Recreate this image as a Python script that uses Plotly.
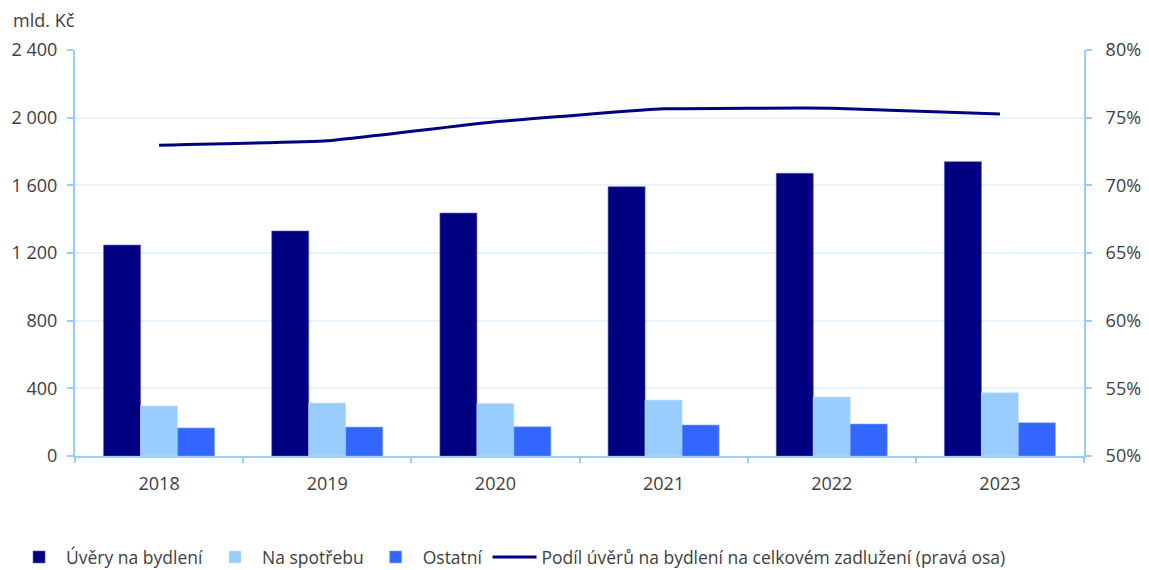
import plotly.graph_objects as go

years = ["2018", "2019", "2020", "2021", "2022", "2023"]
uvery_bydleni = [1247, 1330, 1436, 1592, 1671, 1740]
na_spotrebu = [296, 313, 311, 331, 349, 374]
ostatni = [166, 171, 173, 183, 189, 197]
podil = [72.97, 73.3, 74.7, 75.65, 75.7, 75.27]

left_ticks = [0, 400, 800, 1200, 1600, 2000, 2400]
right_ticks = [50, 55, 60, 65, 70, 75, 80]
right_labels = [f"{v}%" for v in right_ticks]

font_family = "Open Sans, Liberation Sans, sans-serif"
axis_col = "#99ccff"
grid_col = "#e8f3ff"
text_col = "#404040"

fig = go.Figure()
fig.add_trace(go.Bar(x=years, y=uvery_bydleni, name="Úvěry na bydlení",
                     marker=dict(color="#000080", line=dict(color="#5a5ac0", width=0.6))))
fig.add_trace(go.Bar(x=years, y=na_spotrebu, name="Na spotřebu",
                     marker=dict(color="#99ccff", line=dict(color="#c8e2ff", width=0.6))))
fig.add_trace(go.Bar(x=years, y=ostatni, name="Ostatní",
                     marker=dict(color="#3366ff", line=dict(color="#8aa8ff", width=0.6))))
fig.add_trace(go.Scatter(x=years, y=podil, name="Podíl úvěrů na bydlení na celkovém zadlužení (pravá osa)",
                         mode="lines", line=dict(color="#000080", width=3, shape="spline", smoothing=0.3),
                         yaxis="y2"))

fig.update_layout(
    width=1141, height=562,
    margin=dict(l=67, r=65, t=42, b=114, autoexpand=False),
    paper_bgcolor="white", plot_bgcolor="white",
    separators=", ",
    font=dict(family=font_family, size=15, color=text_col),
    barmode="group", bargap=0.34, bargroupgap=0,
    showlegend=True,
    legend=dict(orientation="h", x=-0.0624, xref="paper", xanchor="left",
                y=-0.249, yanchor="middle", font=dict(size=17.5, color=text_col),
                itemwidth=44, traceorder="normal", tracegroupgap=0),
    xaxis=dict(showline=True, linecolor=axis_col, linewidth=2, ticks="outside",
               tickson="boundaries", tickcolor=axis_col, ticklen=5, tickwidth=2,
               showgrid=False, tickfont=dict(size=18), ticklabelstandoff=10),
    yaxis=dict(range=[0, 2400], tickvals=left_ticks, tickformat=",d",
               showline=True, linecolor=axis_col, linewidth=2, ticks="outside",
               tickcolor=axis_col, ticklen=6, tickwidth=2,
               showgrid=True, gridcolor=grid_col, gridwidth=1.5, zeroline=False,
               tickfont=dict(size=18), ticklabelstandoff=6),
    yaxis2=dict(range=[50, 80], tickvals=right_ticks, ticktext=right_labels,
                overlaying="y", side="right", showline=True, linecolor=axis_col,
                linewidth=2, ticks="outside", tickcolor=axis_col, ticklen=6, tickwidth=2,
                showgrid=False, zeroline=False, tickfont=dict(size=18), ticklabelstandoff=10),
    annotations=[dict(text="mld. Kč", xref="paper", yref="paper", x=-0.063, y=1.0,
                      xanchor="left", yanchor="bottom", yshift=16, showarrow=False,
                      font=dict(size=18, color=text_col))],
)

fig.write_html("out.html")
